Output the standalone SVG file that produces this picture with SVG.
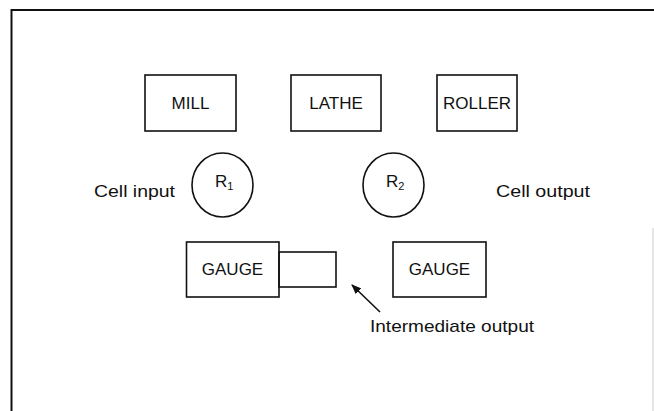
<svg xmlns="http://www.w3.org/2000/svg" width="654" height="411" viewBox="0 0 654 411">
<style>
.box{fill:none;stroke:#111;stroke-width:1.6}
.t{font-family:"Liberation Sans",Arial,sans-serif;font-size:17px;fill:#111}
.lbl{font-family:"Liberation Sans",Arial,sans-serif;font-size:17px;fill:#111}
.frame{stroke:#111;stroke-width:2;fill:none}
.conn{stroke:#111;stroke-width:1.6;fill:none}
</style>
<defs>
<marker id="ah" markerWidth="10" markerHeight="8" refX="9" refY="4" orient="auto" markerUnits="userSpaceOnUse">
<path d="M0,0 L10,4 L0,8 Z" fill="#111"/>
</marker>
</defs>
<rect width="654" height="411" fill="#fff"/>
<g id="frame">
<path class="frame" d="M11.5,411 V10 H654"/>
<line x1="653" y1="228" x2="653" y2="411" stroke="#ccc" stroke-width="1"/>
</g>
<g id="mill"><rect class="box" x="145" y="75" width="91" height="56"/><text class="t" x="190.5" y="109" text-anchor="middle">MILL</text></g>
<g id="lathe"><rect class="box" x="291" y="75" width="90" height="56"/><text class="t" x="336" y="109" text-anchor="middle">LATHE</text></g>
<g id="roller"><rect class="box" x="437" y="75" width="80" height="56"/><text class="t" x="477" y="109" text-anchor="middle">ROLLER</text></g>
<g id="r1"><ellipse class="box" cx="222.5" cy="185" rx="30.5" ry="32"/><text class="t" x="215" y="187">R<tspan font-size="11" dy="3">1</tspan></text></g>
<g id="r2"><ellipse class="box" cx="393.5" cy="185" rx="30.5" ry="32"/><text class="t" x="386" y="187">R<tspan font-size="11" dy="3">2</tspan></text></g>
<g id="cell-input"><text class="lbl" x="94" y="197" textLength="81" lengthAdjust="spacingAndGlyphs">Cell input</text></g>
<g id="cell-output"><text class="lbl" x="496" y="197" textLength="94" lengthAdjust="spacingAndGlyphs">Cell output</text></g>
<g id="gauge1"><rect class="box" x="186.5" y="242" width="92.5" height="55"/><rect class="box" x="279" y="252" width="57" height="35"/><text class="t" x="232.5" y="275" text-anchor="middle">GAUGE</text></g>
<g id="gauge2"><rect class="box" x="393" y="242" width="93" height="55"/><text class="t" x="439.5" y="275" text-anchor="middle">GAUGE</text></g>
<g id="connectors"><line class="conn" x1="380" y1="312" x2="352" y2="285" marker-end="url(#ah)"/></g>
<g id="intermediate-output"><text class="lbl" x="370" y="332" textLength="164" lengthAdjust="spacingAndGlyphs">Intermediate output</text></g>
</svg>
